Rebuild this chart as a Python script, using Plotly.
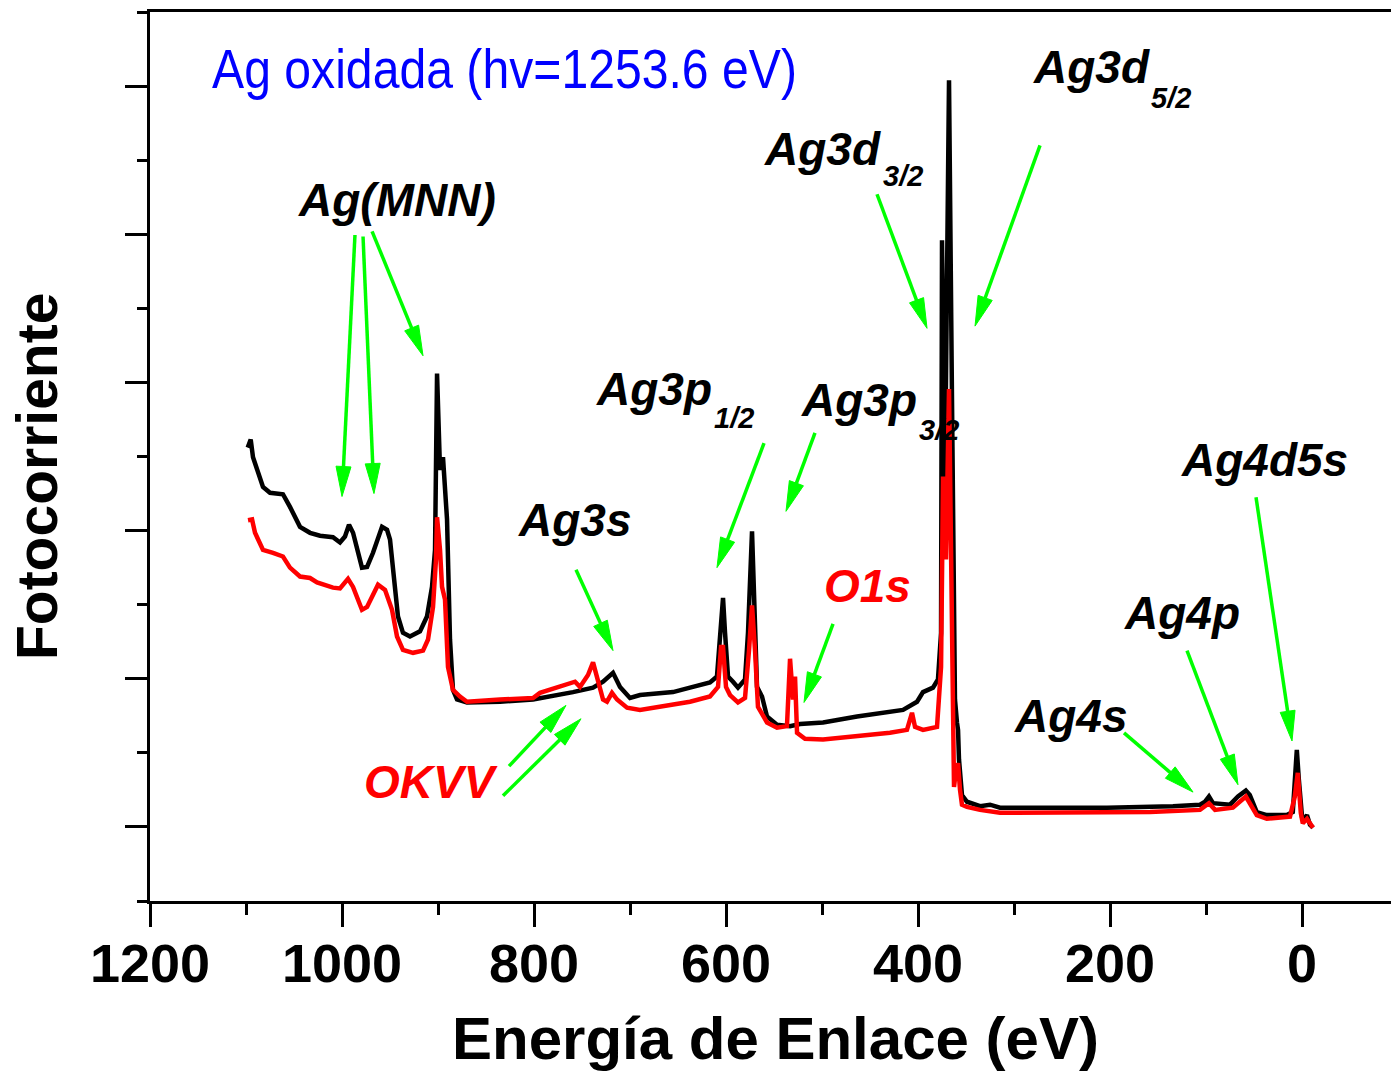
import plotly.graph_objects as go

# ---------------- data (binding energy in eV, photocurrent in arb. units) -------------
energy_black = [1098.2, 1095.1, 1092.7, 1088.5, 1082.3, 1075.0, 1064.6, 1061.5, 1054.2, 1043.75,
                1033.3, 1022.9, 1009.4, 1002.1, 996.9, 992.7, 988.5, 979.2, 973.9, 967.7,
                958.3, 953.1, 950.0, 946.9, 941.7, 936.5, 929.2, 918.75, 911.5, 906.25,
                903.1, 901.0, 897.9, 894.8, 890.6, 887.5, 884.4, 880.2, 869.8, 835.4,
                801.0, 759.4, 738.5, 728.1, 717.7, 710.4, 700.0, 689.6, 655.2, 637.5,
                616.7, 609.4, 606.25, 603.1, 601.0, 597.9, 592.7, 587.5, 580.2, 577.1,
                572.9, 570.8, 567.7, 562.5, 557.3, 546.9, 533.3, 522.9, 498.9, 463.5,
                429.2, 415.6, 401.0, 394.8, 384.4, 379.2, 376.0, 375.0, 371.9, 367.7,
                364.6, 361.5, 359.4, 358.3, 357.3, 354.2, 349.0, 335.4, 325.0, 314.6,
                272.9, 203.1, 134.4, 106.25, 101.0, 96.9, 92.7, 75.0, 66.7, 58.5,
                54.4, 47.1, 36.7, 15.9, 9.6, 7.5, 5.4, 3.3, 0.0, -3.1,
                -5.2, -8.3, -11.5]
intensity_black = [6.12, 6.23, 5.99, 5.82, 5.59, 5.51, 5.50, 5.49, 5.32, 5.05,
                   4.97, 4.93, 4.91, 4.84, 4.92, 5.08, 4.97, 4.50, 4.51, 4.70,
                   5.05, 5.01, 4.88, 4.51, 3.84, 3.62, 3.57, 3.64, 3.84, 4.24,
                   4.74, 7.12, 5.82, 5.99, 5.15, 3.53, 2.85, 2.72, 2.68, 2.69,
                   2.72, 2.82, 2.88, 2.96, 3.08, 2.89, 2.74, 2.78, 2.82, 2.88,
                   2.95, 3.03, 3.62, 4.09, 3.62, 3.03, 2.96, 2.88, 2.99, 3.62,
                   4.99, 4.07, 2.89, 2.76, 2.49, 2.38, 2.36, 2.39, 2.41, 2.49,
                   2.55, 2.58, 2.69, 2.82, 2.88, 2.99, 3.62, 8.92, 5.69, 11.08,
                   6.77, 2.72, 2.41, 2.31, 1.91, 1.43, 1.34, 1.28, 1.30, 1.26,
                   1.26, 1.26, 1.28, 1.30, 1.34, 1.41, 1.32, 1.30, 1.41, 1.49,
                   1.43, 1.20, 1.16, 1.16, 1.20, 1.64, 2.04, 1.64, 1.14, 1.12,
                   1.16, 1.03, 0.99]

energy_red = [1097.9, 1093.7, 1090.6, 1082.3, 1071.9, 1061.5, 1054.2, 1043.75, 1033.3, 1026.0,
              1009.4, 1002.1, 993.75, 988.5, 979.2, 973.9, 962.5, 955.2, 947.9, 942.7,
              936.5, 926.0, 915.6, 910.4, 905.2, 902.1, 901.0, 897.9, 895.8, 892.7,
              889.6, 884.4, 877.1, 869.8, 835.4, 801.0, 793.75, 776.0, 765.6, 757.3,
              752.1, 743.75, 738.5, 733.3, 728.1, 724.0, 718.75, 713.5, 703.1, 689.6,
              655.2, 637.5, 616.7, 608.3, 605.2, 603.1, 600.0, 595.8, 587.5, 580.2,
              576.0, 572.9, 569.8, 566.7, 557.3, 546.9, 536.5, 533.3, 530.2, 528.1,
              526.0, 517.7, 498.9, 463.5, 429.2, 411.5, 406.25, 403.1, 394.8, 380.2,
              378.1, 376.0, 373.9, 370.8, 367.7, 364.6, 362.5, 360.4, 358.3, 356.25,
              354.2, 349.0, 335.4, 314.6, 203.1, 158.3, 106.25, 96.9, 90.6, 72.0,
              58.5, 47.1, 36.7, 12.5, 7.5, 4.4, 1.25, -0.8, -5.2, -11.5]
intensity_red = [5.14, 5.15, 4.97, 4.74, 4.70, 4.65, 4.50, 4.38, 4.36, 4.30,
                 4.23, 4.22, 4.35, 4.24, 3.93, 3.97, 4.27, 4.20, 3.93, 3.57,
                 3.39, 3.35, 3.38, 3.53, 3.97, 4.61, 5.18, 4.74, 4.24, 4.07,
                 3.16, 2.85, 2.76, 2.69, 2.72, 2.74, 2.81, 2.88, 2.92, 2.96,
                 2.89, 3.05, 3.22, 2.99, 2.72, 2.69, 2.81, 2.72, 2.61, 2.58,
                 2.65, 2.69, 2.76, 2.89, 3.43, 3.43, 2.89, 2.78, 2.68, 2.74,
                 3.39, 3.99, 3.39, 2.62, 2.41, 2.34, 2.36, 3.27, 2.72, 3.03,
                 2.27, 2.19, 2.18, 2.22, 2.27, 2.31, 2.54, 2.35, 2.31, 2.35,
                 2.72, 3.16, 5.73, 4.61, 6.91, 4.07, 1.54, 1.77, 1.86, 1.50,
                 1.30, 1.27, 1.23, 1.19, 1.20, 1.20, 1.23, 1.32, 1.23, 1.26,
                 1.41, 1.16, 1.11, 1.14, 1.41, 1.73, 1.19, 1.05, 1.11, 0.99]

x_tick_values = [1200, 1000, 800, 600, 400, 200, 0]
x_tick_labels = ["1200", "1000", "800", "600", "400", "200", "0"]
x_minor_ticks = [1100, 900, 700, 500, 300, 100]
y_major_ticks = [1, 3, 5, 7, 9, 11]
y_minor_ticks = [0, 2, 4, 6, 8, 10, 12]

# peak labels: (text, colour, left px, top px, font size)
peak_labels = [
    ("Ag(MNN)", "black", 296, 172, 46),
    ("Ag3d", "black", 762, 121, 46),
    ("3/2", "black", 881, 158, 29),
    ("Ag3d", "black", 1031, 39, 46),
    ("5/2", "black", 1149, 80, 29),
    ("Ag3p", "black", 594, 361, 46),
    ("1/2", "black", 712, 400, 29),
    ("Ag3p", "black", 799, 372, 46),
    ("3/2", "black", 917, 412, 29),
    ("Ag3s", "black", 516, 492, 46),
    ("O1s", "red", 822, 558, 46),
    ("OKVV", "red", 362, 754, 46),
    ("Ag4d5s", "black", 1179, 432, 46),
    ("Ag4p", "black", 1122, 585, 46),
    ("Ag4s", "black", 1012, 688, 46),
]

# arrows: (tail energy, tail intensity, tip energy, tip intensity)
arrows = [
    (986.5, 8.99, 1000.0, 5.46),
    (978.1, 8.97, 966.7, 5.50),
    (968.7, 9.04, 915.6, 7.36),
    (442.7, 9.54, 390.6, 7.73),
    (272.9, 10.20, 340.6, 7.76),
    (560.4, 6.18, 609.4, 4.50),
    (507.3, 6.32, 537.5, 5.26),
    (756.25, 4.47, 717.7, 3.38),
    (488.5, 3.74, 518.75, 2.68),
    (826.0, 1.82, 766.7, 2.64),
    (832.3, 1.42, 751.0, 2.46),
    (185.4, 2.27, 113.5, 1.47),
    (119.8, 3.38, 66.7, 1.57),
    (47.9, 5.45, 10.4, 2.16),
]

# ---------------- layout geometry ----------------
W, H = 1391, 1073
ML, MR, MT, MB = 150, 0, 12, 172
X0, X1 = 1200, -92.7
Y0, Y1 = 0, 12
PW, PH = W - ML - MR, H - MT - MB


def to_px(e, i):
    return ML + (e - X0) / (X1 - X0) * PW, MT + (Y1 - i) / (Y1 - Y0) * PH


def from_px(px, py):
    return X0 + (px - ML) / PW * (X1 - X0), Y1 - (py - MT) / PH * (Y1 - Y0)


def paper(px, py):
    return (px - ML) / PW, (MT + PH - py) / PH


fig = go.Figure()
fig.add_trace(go.Scatter(x=energy_black, y=intensity_black, mode="lines",
                         line=dict(color="black", width=4.5), showlegend=False))
fig.add_trace(go.Scatter(x=energy_red, y=intensity_red, mode="lines",
                         line=dict(color="#ff0000", width=4.5), showlegend=False))

GREEN = "#00ff00"
shapes = []
for te, ti, he, hi in arrows:
    tx, ty = to_px(te, ti)
    hx, hy = to_px(he, hi)
    dx, dy = hx - tx, hy - ty
    n = (dx * dx + dy * dy) ** 0.5
    ux, uy = dx / n, dy / n
    hl, hw = 30, 7.5
    bx, by = hx - hl * ux, hy - hl * uy
    p1 = from_px(bx - hw * uy, by + hw * ux)
    p2 = from_px(bx + hw * uy, by - hw * ux)
    b = from_px(bx + 2 * ux, by + 2 * uy)
    shapes.append(dict(type="line", xref="x", yref="y", x0=te, y0=ti, x1=b[0], y1=b[1],
                       line=dict(color=GREEN, width=3.5)))
    shapes.append(dict(type="path", xref="x", yref="y",
                       path=f"M{he},{hi} L{p1[0]},{p1[1]} L{p2[0]},{p2[1]} Z",
                       fillcolor=GREEN, line=dict(color=GREEN, width=1)))

annotations = []
for text, col, lx, ty, fs in peak_labels:
    x, y = paper(lx, ty)
    annotations.append(dict(text=f"<b><i>{text}</i></b>", x=x, y=y, xref="paper", yref="paper",
                            xanchor="left", yanchor="top", showarrow=False,
                            font=dict(family="Liberation Sans, Arial, sans-serif", size=fs, color=col)))

x, y = paper(210, 35)
annotations.append(dict(text="Ag oxidada (hv=1253.6 eV)", x=x, y=y, xref="paper", yref="paper",
                        xanchor="left", yanchor="top", showarrow=False,
                        font=dict(family="Liberation Sans, Arial, sans-serif", size=56, color="#0000ff")))
x, y = paper(775, 1003)
annotations.append(dict(text="<b>Energía de Enlace (eV)</b>", x=x, y=y, xref="paper", yref="paper",
                        xanchor="center", yanchor="top", showarrow=False,
                        font=dict(family="Liberation Sans, Arial, sans-serif", size=60, color="black")))
x, y = paper(37, 477)
annotations.append(dict(text="<b>Fotocorriente</b>", x=x, y=y, xref="paper", yref="paper",
                        xanchor="center", yanchor="middle", showarrow=False, textangle=-90,
                        font=dict(family="Liberation Sans, Arial, sans-serif", size=57, color="black")))

fig.update_layout(
    width=W, height=H, margin=dict(l=ML, r=MR, t=MT, b=MB),
    paper_bgcolor="white", plot_bgcolor="white",
    shapes=shapes, annotations=annotations,
    xaxis=dict(range=[X0, X1], showgrid=False, zeroline=False,
               showline=True, linecolor="black", linewidth=3, mirror=True,
               ticks="outside", ticklen=23, tickwidth=3, tickcolor="black",
               tickmode="array", tickvals=x_tick_values, ticktext=x_tick_labels,
               ticklabelstandoff=-10,
               tickfont=dict(family="Liberation Sans, Arial, sans-serif", size=54, color="black", weight="bold"),
               minor=dict(ticks="outside", ticklen=11, tickwidth=3, tickcolor="black",
                          tickvals=x_minor_ticks, showgrid=False)),
    yaxis=dict(range=[Y0, Y1], showgrid=False, zeroline=False,
               showline=True, linecolor="black", linewidth=3, mirror=False,
               ticks="outside", ticklen=22, tickwidth=3, tickcolor="black",
               tickmode="array", tickvals=y_major_ticks, showticklabels=False,
               minor=dict(ticks="outside", ticklen=10, tickwidth=3, tickcolor="black",
                          tickvals=y_minor_ticks, showgrid=False)),
)

post = """
document.body.style.margin = '0';
document.querySelectorAll('text.annotation-text').forEach(function (t) {
  if (t.textContent.indexOf('oxidada') >= 0) {
    var bb = t.getBBox();
    var x0 = bb.x;
    t.setAttribute('transform', 'translate(' + x0 + ',0) scale(0.86,1) translate(' + (-x0) + ',0)');
  }
});
"""
fig.write_html("out.html", post_script=post, config={"displayModeBar": False})
